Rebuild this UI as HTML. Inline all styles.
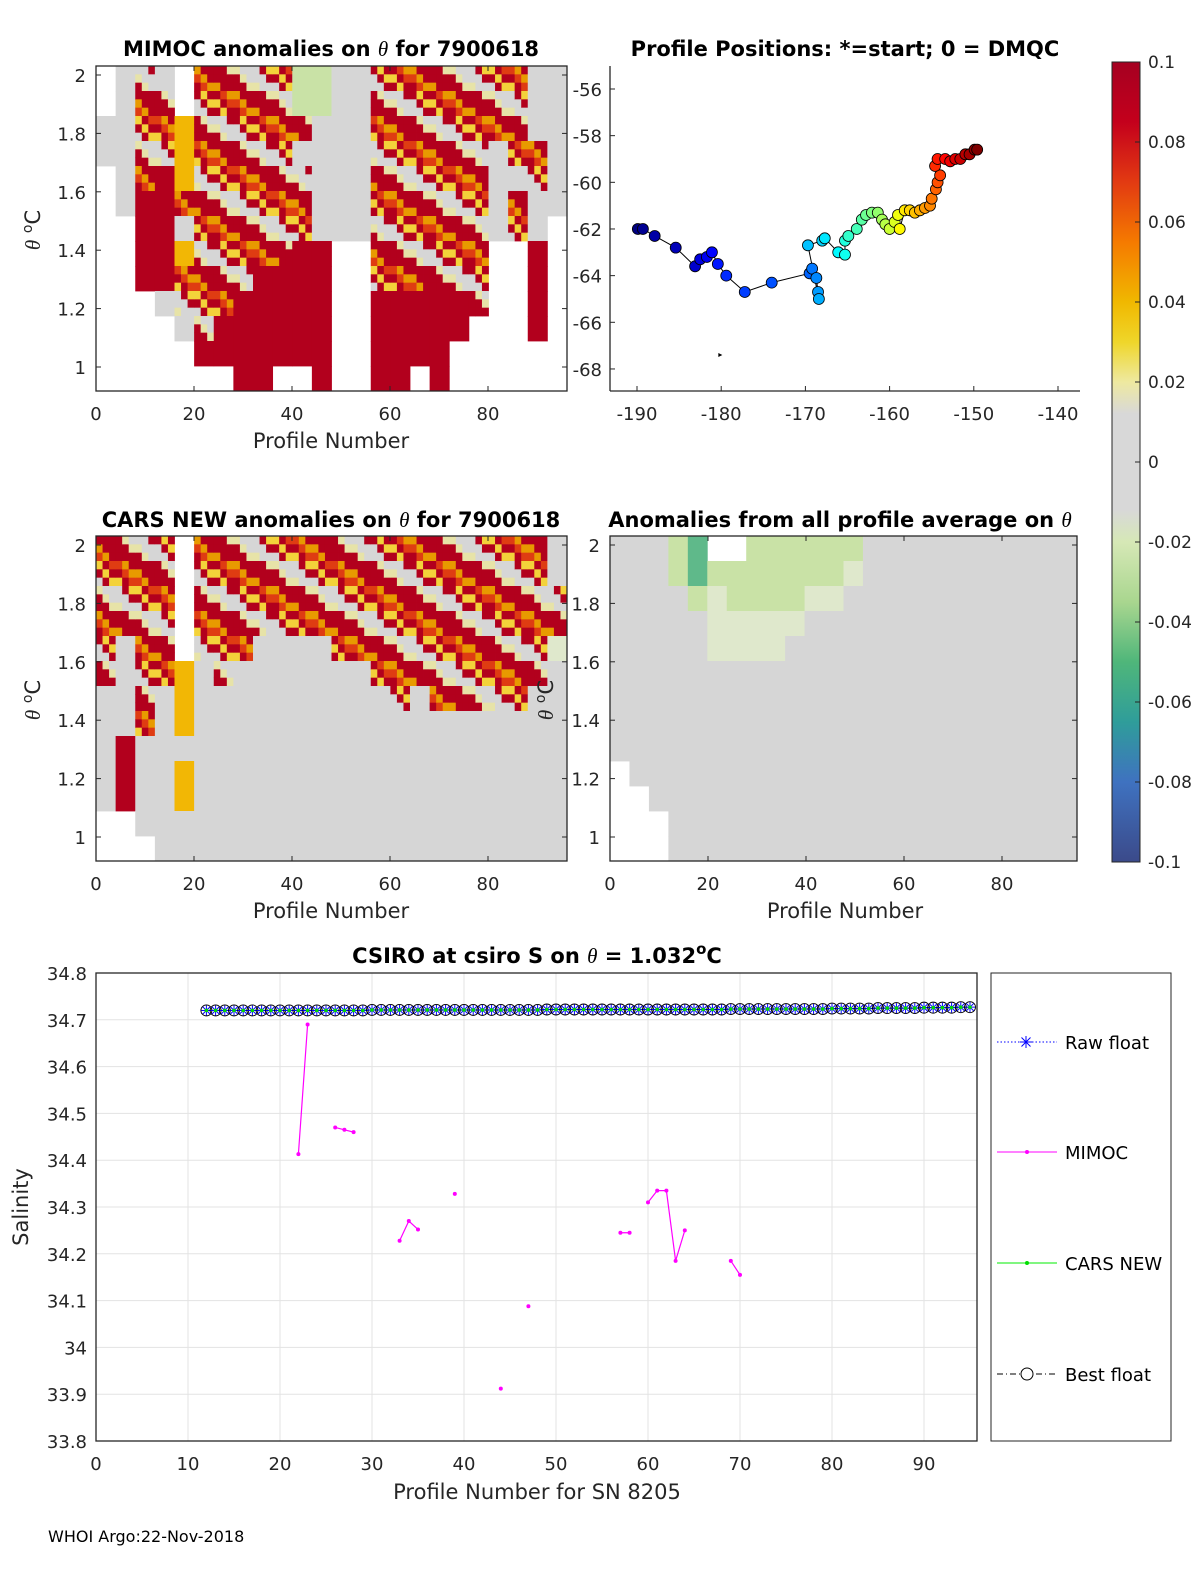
<!DOCTYPE html>
<html><head><meta charset="utf-8"><style>
body{margin:0;background:#fff}
svg{display:block;font-family:"DejaVu Sans","Liberation Sans",sans-serif}
</style></head><body>
<svg id="s" width="1200" height="1575" viewBox="0 0 1200 1575" xmlns="http://www.w3.org/2000/svg">
<g id="bg"></g>
</svg>
<script>
// ---------- data ----------
const mimocGrid=[
"wgmgwmmmmmllggmmmmmmmmgg",
"wgmmwmmmmmllggmmmmmmmmgg",
"ggmmymmmmmmgggmmmmmmmmgg",
"ggmmymmmmmggggmmmmmmgmmg",
"wgmrymmmmmmgggmmmmmmggmg",
"wgrrmmmmmmmgggmmmmmmgmgg",
"wwrrgmmmmmmgggmmmmmmgmgw",
"wwrrymmmmmrrwwmmmmmmwwrw",
"wwrrmmmmrrrrwwmmmmmmwwrw",
"wwwgmmmrrrrrwwrrrrrmwwrw",
"wwwwgmrrrrrrwwrrrrrwwwrw",
"wwwwwrrrrrrrwwrrrrwwwwww",
"wwwwwwwrrwwrwwrrwrwwwwww"];
const carsGrid=[
"mmmmwmmmmmmmmmmmmmmmmmmg",
"mmmmwmmmmmmmmmmmmmmmmmmg",
"mmmmwmmmmmmmmmmmmmmmmmmm",
"mmmmwmmmmmmmmmmmmmmmmmmm",
"mgmmwmmmggggmmmmmmmmmmmL",
"mgmmygmgggggggmmmmmmmmmg",
"ggmgyggggggggggmgmmmmmgg",
"ggmgyggggggggggggggggggg",
"grgggggggggggggggggggggg",
"grggyggggggggggggggggggg",
"grggyggggggggggggggggggg",
"wwgggggggggggggggggggggg",
"wwwggggggggggggggggggggg"];
const avgGrid=[
"ggglnwwllllllggggggggggg",
"ggglnlllllllLggggggggggg",
"gggglLllllLLgggggggggggg",
"gggggLLLLLgggggggggggggg",
"gggggLLLLggggggggggggggg",
"gggggggggggggggggggggggg",
"gggggggggggggggggggggggg",
"gggggggggggggggggggggggg",
"gggggggggggggggggggggggg",
"wggggggggggggggggggggggg",
"wwgggggggggggggggggggggg",
"wwwggggggggggggggggggggg",
"wwwggggggggggggggggggggg"];
const posLon=[-189.9,-189.3,-187.9,-185.4,-183.1,-182.5,-181.7,-181.1,-180.4,-179.4,-177.2,-174.0,-169.5,-169.2,-168.7,-168.5,-168.4,-169.7,-168.0,-167.7,-166.1,-165.3,-165.3,-164.9,-163.9,-163.3,-162.8,-162.1,-161.4,-160.9,-160.5,-160.0,-159.4,-159.0,-158.8,-158.2,-157.6,-157.0,-156.4,-155.8,-155.2,-155.0,-154.5,-154.3,-154.0,-154.6,-154.3,-153.4,-152.8,-152.2,-151.6,-151.0,-150.5,-149.9,-149.6];
const posLat=[-62.0,-62.0,-62.3,-62.8,-63.6,-63.3,-63.2,-63.0,-63.5,-64.0,-64.7,-64.3,-63.9,-63.7,-64.1,-64.7,-65.0,-62.7,-62.5,-62.4,-63.0,-63.1,-62.5,-62.3,-62.0,-61.6,-61.4,-61.3,-61.3,-61.6,-61.8,-62.0,-61.7,-61.4,-62.0,-61.2,-61.2,-61.3,-61.2,-61.1,-61.0,-60.7,-60.3,-60.0,-59.7,-59.3,-59.0,-59.0,-59.1,-59.0,-59.0,-58.8,-58.8,-58.6,-58.6];
const floatStart=12, floatEnd=95;
const rawS=[34.720,34.720,34.720,34.720,34.720,34.720,34.720,34.720,34.720,34.720,34.720,34.720,34.720,34.720,34.720,34.720,34.720,34.720,34.721,34.721,34.721,34.721,34.721,34.721,34.721,34.721,34.721,34.721,34.721,34.721,34.721,34.721,34.721,34.721,34.721,34.721,34.721,34.722,34.722,34.722,34.722,34.722,34.722,34.722,34.722,34.722,34.722,34.722,34.722,34.722,34.722,34.722,34.722,34.722,34.722,34.722,34.722,34.723,34.723,34.723,34.723,34.723,34.723,34.723,34.723,34.723,34.723,34.723,34.724,34.724,34.724,34.724,34.724,34.725,34.725,34.725,34.725,34.725,34.726,34.726,34.726,34.726,34.727,34.727];
const mimocP=[22,23,null,26,27,28,null,33,34,35,null,39,null,44,null,47,null,57,58,null,60,61,62,63,64,null,69,70];
const mimocS=[34.413,34.69,null,34.47,34.465,34.46,null,34.228,34.27,34.252,null,34.328,null,33.912,null,34.088,null,34.245,34.245,null,34.31,34.335,34.335,34.185,34.25,null,34.185,34.155];
const xTicks=[0,10,20,30,40,50,60,70,80,90];
const yTicks=[33.8,33.9,34,34.1,34.2,34.3,34.4,34.5,34.6,34.7,34.8];
const thetaTicks=[1,1.2,1.4,1.6,1.8,2];
const profTicks=[0,20,40,60,80];
const lonTicks=[-190,-180,-170,-160,-150,-140];
const latTicks=[-56,-58,-60,-62,-64,-66,-68];
const cbTicks=[0.1,0.08,0.06,0.04,0.02,0,-0.02,-0.04,-0.06,-0.08,-0.1];

// ---------- helpers ----------
const S=document.getElementById('s');const NS='http://www.w3.org/2000/svg';
function el(t,a,p){const e=document.createElementNS(NS,t);for(const k in a)e.setAttribute(k,a[k]);(p||S).appendChild(e);return e;}
function txt(x,y,s,a,p){const e=el('text',Object.assign({x:x,y:y,'font-size':18,fill:'#262626'},a||{}),p);e.textContent=s;return e;}
const C={r:'#b2001d',g:'#d6d6d6',y:'#f2b705',l:'#c9e2a6',L:'#dfe8cc',b:'#4169b0',n:'#5fb98a'};
const mpal=['#b2001d','#b2001d','#d6d6d6','#b2001d','#e89a00','#f3d23a','#d6d6d6','#b2001d','#df3c12','#b2001d','#e7e3a8'];
function heat(grid,x0,y0,w,h,name){
  const g=el('g',{});
  
  
  const nr=grid.length,nc=grid[0].length,cw=w/nc,ch=h/nr;
  grid.forEach((row,i)=>{for(let j=0;j<nc;j++){const c=row[j];if(c==='w')continue;
    if(c==='m'){for(let a=0;a<3;a++)for(let b=0;b<3;b++){
      el('rect',{x:x0+j*cw+a*cw/3,y:y0+i*ch+b*ch/3,width:cw/3+0.4,height:ch/3+0.4,fill:mpal[(i*5+j*3+a*7+b*4)%mpal.length]},g);} }
    else el('rect',{x:x0+j*cw,y:y0+i*ch,width:cw+0.4,height:ch+0.4,fill:C[c]},g);}});
}
function thetaPanel(x0,y0,w,h,pname,yLabX){
  const sx=v=>x0+v*4.9, sy=v=>y0+9+(2-v)*292*(h-0)/325;
  el('rect',{x:x0,y:y0,width:w,height:h,fill:'none',stroke:'#262626','stroke-width':1.3,});
  thetaTicks.forEach(t=>{const y=sy(t);el('line',{x1:x0,x2:x0+5,y1:y,y2:y,stroke:'#262626'});el('line',{x1:x0+w,x2:x0+w-5,y1:y,y2:y,stroke:'#262626'});
    const e=txt(yLabX,y+7,String(t),{'text-anchor':'end'});});
  profTicks.forEach(t=>{const x=sx(t);el('line',{x1:x,x2:x,y1:y0+h,y2:y0+h-5,stroke:'#262626'});el('line',{x1:x,x2:x,y1:y0,y2:y0+5,stroke:'#262626'});
    const e=txt(x,y0+h+29,String(t),{'text-anchor':'middle'});});
}
function thetaLabel(x,y,name){const e=el('text',{x:0,y:0,'font-size':21,fill:'#262626',transform:`translate(${x},${y}) rotate(-90)`,'text-anchor':'middle'});
  e.innerHTML='<tspan font-style="italic" font-family="Liberation Serif">θ</tspan> <tspan dy="-8" font-size="14">o</tspan><tspan dy="8">C</tspan>';
  }
function boldTitle(x,y,html,name){const e=el('text',{x:x,y:y,'font-size':21,'font-weight':'bold','text-anchor':'middle',fill:'#000'});
  e.innerHTML=html;}
const TH='<tspan font-style="italic" font-weight="normal" font-family="Liberation Serif">θ</tspan>';

// ---------- panel 1: MIMOC ----------
heat(mimocGrid,96,66,471,325,'mimoc-heatmap');
thetaPanel(96,66,471,325,'mimoc',86);
boldTitle(331,56,'MIMOC anomalies on '+TH+'  for 7900618','mimoc-title');
txt(331,448,'Profile Number',{'font-size':21,'text-anchor':'middle',});
thetaLabel(40,230,'mimoc-y-label');

// ---------- panel 3: CARS ----------
heat(carsGrid,96,536,471,325,'cars-heatmap');
thetaPanel(96,536,471,325,'cars',86);
boldTitle(331,527,'CARS NEW anomalies on '+TH+' for 7900618','cars-title');
txt(331,918,'Profile Number',{'font-size':21,'text-anchor':'middle',});
thetaLabel(40,700,'cars-y-label');

// ---------- panel 4: average ----------
heat(avgGrid,610,536,467,325,'avg-heatmap');
thetaPanel(610,536,467,325,'avg',600);
boldTitle(840,527,'Anomalies from all profile average on '+TH,'avg-title');
txt(845,918,'Profile Number',{'font-size':21,'text-anchor':'middle',});
thetaLabel(553,700,'avg-y-label');

// ---------- panel 2: positions ----------
(function(){
  const x0=610,y0=66,w=470,h=325;
  const sx=v=>637+(v+190)*8.42, sy=v=>89+(-56-v)*23.33;
  el('line',{x1:x0,x2:x0,y1:y0,y2:y0+h,stroke:'#262626','stroke-width':1.3});
  el('line',{x1:x0,x2:x0+w,y1:y0+h,y2:y0+h,stroke:'#262626','stroke-width':1.3});
  lonTicks.forEach(t=>{const x=sx(t);el('line',{x1:x,x2:x,y1:y0+h,y2:y0+h-5,stroke:'#262626'});
    const e=txt(x,y0+h+29,String(t),{'text-anchor':'middle'});});
  latTicks.forEach(t=>{const y=sy(t);el('line',{x1:x0,x2:x0+5,y1:y,y2:y,stroke:'#262626'});
    const e=txt(602,y+7,String(t),{'text-anchor':'end'});});
  txt(845,56,'Profile Positions: *=start; 0 = DMQC',{'font-size':21,'font-weight':'bold','text-anchor':'middle',fill:'#000',});
  let d='';posLon.forEach((v,i)=>{d+=(i?'L':'M')+sx(v)+' '+sy(posLat[i]);});
  el('path',{d:d,fill:'none',stroke:'#000','stroke-width':1,});
  function jet(t){const r=Math.min(1,Math.max(0,1.5-Math.abs(4*t-3))),g=Math.min(1,Math.max(0,1.5-Math.abs(4*t-2))),b=Math.min(1,Math.max(0,1.5-Math.abs(4*t-1)));return `rgb(${r*255|0},${g*255|0},${b*255|0})`;}
  const n=posLon.length;
  posLon.forEach((v,i)=>{const c=el('circle',{cx:sx(v),cy:sy(posLat[i]),r:5.5,fill:jet(i/(n-1)),stroke:'#000','stroke-width':0.8});
    
    });
  el('path',{d:`M${sx(-180.1)-2} ${sy(-67.4)-2}l4 2l-4 2z`,fill:'#000',});
})();

// ---------- colorbar ----------
(function(){
  const x=1112,y0=62,h=800,w=28;
  const stops=[[0.1,'#a50021'],[0.085,'#c4001c'],[0.07,'#e23a12'],[0.055,'#f57a00'],[0.04,'#f0b800'],[0.03,'#efd62a'],[0.02,'#eee9a0'],[0.012,'#d8d8d8'],[-0.012,'#d8d8d8'],[-0.02,'#d6e8b6'],[-0.035,'#a9d68f'],[-0.05,'#4fb67a'],[-0.065,'#2f9d9a'],[-0.08,'#3f72c0'],[-0.1,'#3b4a8a']];
  const defs=el('defs',{});const lg=el('linearGradient',{id:'cbg',x1:0,y1:0,x2:0,y2:1},defs);
  stops.forEach(s=>el('stop',{offset:((0.1-s[0])/0.2),'stop-color':s[1]},lg));
  el('rect',{x:x,y:y0,width:w,height:h,fill:'url(#cbg)',stroke:'#262626','stroke-width':1,});
  cbTicks.forEach(t=>{const y=y0+(0.1-t)/0.2*h;el('line',{x1:x+w-5,x2:x+w,y1:y,y2:y,stroke:'#262626'});
    const e=txt(1148,y+6,String(t),{'font-size':17});});
})();

// ---------- bottom salinity chart ----------
(function(){
  const x0=96,y0=973,w=881,h=468;
  const sx=v=>96+v*9.2, sy=v=>1441-(v-33.8)*468;
  el('rect',{x:x0,y:y0,width:w,height:h,fill:'#fff',stroke:'none'});
  xTicks.forEach(t=>{const x=sx(t);el('line',{x1:x,x2:x,y1:y0,y2:y0+h,stroke:'#e3e3e3'});
    const e=txt(x,1470,String(t),{'text-anchor':'middle'});});
  yTicks.forEach(t=>{const y=sy(t);el('line',{x1:x0,x2:x0+w,y1:y,y2:y,stroke:'#e3e3e3'});
    const e=txt(87,y+7,String(t),{'text-anchor':'end'});});
  el('rect',{x:x0,y:y0,width:w,height:h,fill:'none',stroke:'#262626','stroke-width':1.3,});
  let d='',pen=false;mimocP.forEach((p,i)=>{if(p===null){pen=false;return;}d+=(pen?'L':'M')+sx(p)+' '+sy(mimocS[i]);pen=true;});
  el('path',{d:d,fill:'none',stroke:'#ff00ff','stroke-width':1.2,});
  mimocP.forEach((p,i)=>{if(p===null)return;const c=el('circle',{cx:sx(p),cy:sy(mimocS[i]),r:2,fill:'#ff00ff'});
    });
  let dl='';rawS.forEach((v,i)=>{dl+=(i?'L':'M')+sx(floatStart+i)+' '+sy(v);});
  el('path',{d:dl,fill:'none',stroke:'#00ee00','stroke-width':1.2,});
  el('path',{d:dl,fill:'none',stroke:'#000','stroke-width':1,'stroke-dasharray':'6 3 1 3',});
  rawS.forEach((v,i)=>{const x=sx(floatStart+i),y=sy(v);
    const c=el('circle',{cx:x,cy:y,r:5.5,fill:'none',stroke:'#000','stroke-width':0.9});
    
    const a=el('path',{d:`M${x-5} ${y}h10M${x} ${y-5}v10M${x-3.6} ${y-3.6}l7.2 7.2M${x-3.6} ${y+3.6}l7.2 -7.2`,stroke:'#0000ff','stroke-width':1});
    
    el('circle',{cx:x,cy:y,r:1.8,fill:'#00dd00'});});
  const t=el('text',{x:537,y:963,'font-size':21,'font-weight':'bold','text-anchor':'middle',fill:'#000',});
  t.innerHTML='CSIRO at csiro S on <tspan font-style="italic" font-weight="normal" font-family="Liberation Serif">θ</tspan> = 1.032<tspan dy="-9" font-size="15">o</tspan><tspan dy="9">C</tspan>';
  txt(537,1499,'Profile Number for SN 8205',{'font-size':21,'text-anchor':'middle',});
  txt(0,0,'Salinity',{'font-size':21,'text-anchor':'middle',transform:'translate(28,1207) rotate(-90)',});
  const lg=el('g',{});
  el('rect',{x:991,y:973,width:180,height:468,fill:'#fff',stroke:'#262626','stroke-width':1},lg);
  const ent=[['Raw float',1042],['MIMOC',1152],['CARS NEW',1263],['Best float',1374]];
  ent.forEach((e,i)=>{const y=e[1];const g=el('g',{},lg);
    
    if(i===0){el('line',{x1:997,x2:1057,y1:y,y2:y,stroke:'#0000ff','stroke-dasharray':'1.5 2'},g);
      el('path',{d:`M1020 ${y}h12M1026 ${y-6}v12M1021.5 ${y-4.5}l9 9M1021.5 ${y+4.5}l9 -9`,stroke:'#0000ff'},g);}
    if(i===1){el('line',{x1:997,x2:1057,y1:y,y2:y,stroke:'#ff00ff'},g);el('circle',{cx:1027,cy:y,r:2,fill:'#ff00ff'},g);}
    if(i===2){el('line',{x1:997,x2:1057,y1:y,y2:y,stroke:'#00ee00'},g);el('circle',{cx:1027,cy:y,r:2,fill:'#00dd00'},g);}
    if(i===3){el('line',{x1:997,x2:1057,y1:y,y2:y,stroke:'#000','stroke-dasharray':'6 3 1 3'},g);el('circle',{cx:1027,cy:y,r:6,fill:'#fff',stroke:'#000'},g);}
    txt(1065,y+7,e[0],{'font-size':18,fill:'#000'},g);});
})();
txt(48,1542,'WHOI Argo:22-Nov-2018',{'font-size':16,fill:'#000',});
</script>
</body></html>
